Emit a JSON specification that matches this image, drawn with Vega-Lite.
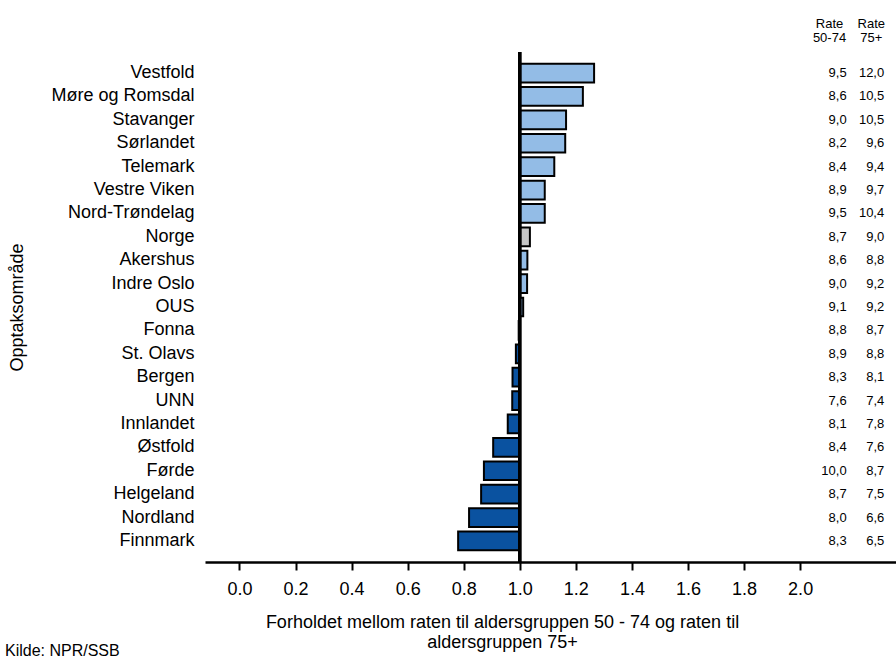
{
  "$schema": "https://vega.github.io/schema/vega-lite/v6.json",
  "autosize": {"type": "none"},
  "padding": {"left": 205, "top": 52, "right": 0, "bottom": 101},
  "width": 691,
  "height": 510,
  "background": "white",
  "config": {
    "font": "Liberation Sans",
    "view": {"stroke": null}
  },
  "title": {
    "text": "Kilde: NPR/SSB",
    "orient": "bottom",
    "anchor": "start",
    "frame": "group",
    "dx": -200,
    "offset": -8,
    "fontSize": 16,
    "fontWeight": "normal",
    "color": "black"
  },
  "data": {
    "values": [
      {"region": "Vestfold", "ratio": 1.265, "r1": "9,5", "r2": "12,0", "group": "over"},
      {"region": "Møre og Romsdal", "ratio": 1.225, "r1": "8,6", "r2": "10,5", "group": "over"},
      {"region": "Stavanger", "ratio": 1.165, "r1": "9,0", "r2": "10,5", "group": "over"},
      {"region": "Sørlandet", "ratio": 1.162, "r1": "8,2", "r2": "9,6", "group": "over"},
      {"region": "Telemark", "ratio": 1.123, "r1": "8,4", "r2": "9,4", "group": "over"},
      {"region": "Vestre Viken", "ratio": 1.089, "r1": "8,9", "r2": "9,7", "group": "over"},
      {"region": "Nord-Trøndelag", "ratio": 1.089, "r1": "9,5", "r2": "10,4", "group": "over"},
      {"region": "Norge", "ratio": 1.036, "r1": "8,7", "r2": "9,0", "group": "norge"},
      {"region": "Akershus", "ratio": 1.027, "r1": "8,6", "r2": "8,8", "group": "over"},
      {"region": "Indre Oslo", "ratio": 1.026, "r1": "9,0", "r2": "9,2", "group": "over"},
      {"region": "OUS", "ratio": 1.012, "r1": "9,1", "r2": "9,2", "group": "over"},
      {"region": "Fonna", "ratio": 0.996, "r1": "8,8", "r2": "8,7", "group": "under"},
      {"region": "St. Olavs", "ratio": 0.986, "r1": "8,9", "r2": "8,8", "group": "under"},
      {"region": "Bergen", "ratio": 0.974, "r1": "8,3", "r2": "8,1", "group": "under"},
      {"region": "UNN", "ratio": 0.973, "r1": "7,6", "r2": "7,4", "group": "under"},
      {"region": "Innlandet", "ratio": 0.957, "r1": "8,1", "r2": "7,8", "group": "under"},
      {"region": "Østfold", "ratio": 0.905, "r1": "8,4", "r2": "7,6", "group": "under"},
      {"region": "Førde", "ratio": 0.872, "r1": "10,0", "r2": "8,7", "group": "under"},
      {"region": "Helgeland", "ratio": 0.862, "r1": "8,7", "r2": "7,5", "group": "under"},
      {"region": "Nordland", "ratio": 0.819, "r1": "8,0", "r2": "6,6", "group": "under"},
      {"region": "Finnmark", "ratio": 0.780, "r1": "8,3", "r2": "6,5", "group": "under"}
    ]
  },
  "encoding": {
    "y": {
      "field": "region",
      "type": "nominal",
      "sort": null,
      "scale": {"paddingInner": 0.2, "paddingOuter": 0.5},
      "axis": {
        "title": "Opptaksområde",
        "titleFontSize": 18,
        "titleFontWeight": "normal",
        "titleColor": "black",
        "titlePadding": 24,
        "labelFontSize": 18,
        "labelColor": "black",
        "labelPadding": 11,
        "domain": false,
        "ticks": false
      }
    }
  },
  "resolve": {"axis": {"x": "independent"}},
  "layer": [
    {
      "mark": {"type": "bar", "stroke": "black", "strokeWidth": 2},
      "encoding": {
        "x": {
          "field": "ratio",
          "type": "quantitative",
          "scale": {"domain": [-0.123, 2.342], "nice": false, "zero": false},
          "axis": {
            "orient": "bottom",
            "values": [0, 0.2, 0.4, 0.6, 0.8, 1.0, 1.2, 1.4, 1.6, 1.8, 2.0],
            "format": ".1f",
            "grid": false,
            "domainColor": "black",
            "domainWidth": 2.5,
            "tickColor": "black",
            "tickWidth": 2,
            "tickSize": 8,
            "labelFontSize": 18,
            "labelColor": "black",
            "labelPadding": 10,
            "title": ["Forholdet mellom raten til aldersgruppen 50 - 74 og raten til", "aldersgruppen 75+"],
            "titleFontSize": 18,
            "titleFontWeight": "normal",
            "titleColor": "black",
            "titlePadding": 15,
            "titleLineHeight": 20,
            "titleX": 297
          }
        },
        "x2": {"datum": 1},
        "color": {
          "field": "group",
          "type": "nominal",
          "scale": {"domain": ["over", "norge", "under"], "range": ["#93BCE6", "#C6C6C6", "#0A52A0"]},
          "legend": null
        }
      }
    },
    {
      "mark": {"type": "rule", "color": "black", "strokeWidth": 2.5},
      "encoding": {
        "x": {"datum": 1, "type": "quantitative", "axis": null},
        "y": null
      }
    },
    {
      "mark": {"type": "text", "align": "right", "baseline": "middle", "fontSize": 13, "color": "black"},
      "encoding": {
        "x": {
          "datum": 2.166,
          "type": "quantitative",
          "axis": {
            "orient": "top",
            "values": [2.103, 2.252],
            "labelExpr": "datum.value < 2.2 ? ['Rate', '50-74'] : ['Rate', '75+']",
            "labelFontSize": 13,
            "labelLineHeight": 14,
            "labelColor": "black",
            "labelPadding": 22,
            "domain": false,
            "ticks": false,
            "grid": false,
            "title": null
          }
        },
        "text": {"field": "r1"}
      }
    },
    {
      "mark": {"type": "text", "align": "right", "baseline": "middle", "fontSize": 13, "color": "black"},
      "encoding": {
        "x": {"datum": 2.3, "type": "quantitative", "axis": null},
        "text": {"field": "r2"}
      }
    }
  ]
}
